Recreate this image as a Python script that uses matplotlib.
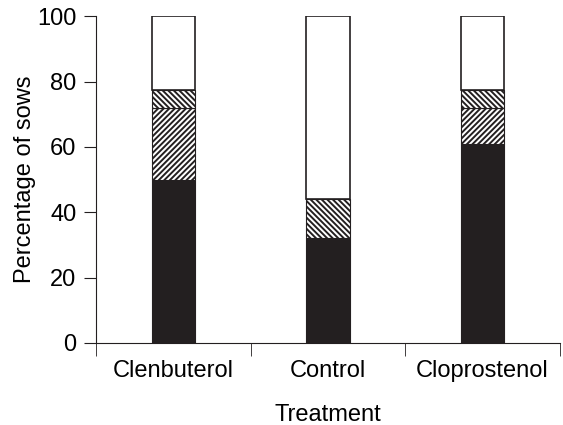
import matplotlib.pyplot as plt
import numpy as np

plt.rcParams['font.family'] = ['Liberation Sans', 'DejaVu Sans']
plt.rcParams['hatch.linewidth'] = 1.4

treatments = ['Clenbuterol', 'Control', 'Cloprostenol']
# stacked segments, bottom to top (percent)
solid = [50, 32, 61]
fwd_hatch = [22, 0, 11]
back_hatch = [5.5, 12, 5.5]
open_part = [22.5, 56, 22.5]

x = np.arange(len(treatments))
w = 0.28
ink = '#231f20'

fig = plt.figure(figsize=(5.63, 4.25), dpi=100)
ax = fig.add_axes([0.1705, 0.193, 0.824, 0.769])

b = np.zeros(3)
ax.bar(x, solid, w, bottom=b, color=ink, edgecolor=ink, linewidth=0.8)
b += solid
ax.bar(x, fwd_hatch, w, bottom=b, color='white', edgecolor=ink, hatch='//////', linewidth=0.8)
b += fwd_hatch
ax.bar(x, back_hatch, w, bottom=b, color='white', edgecolor=ink, hatch='\\\\\\\\\\\\', linewidth=0.8)
b += back_hatch
ax.bar(x, open_part, w, bottom=b, color='white', edgecolor=ink, linewidth=1.2)

ax.set_xlim(-0.5, 2.5)
ax.set_ylim(0, 100)
ax.spines['top'].set_visible(False)
ax.spines['right'].set_visible(False)
ax.spines['left'].set_color(ink)
ax.spines['bottom'].set_color(ink)

ax.set_xticks(x)
ax.set_xticklabels(treatments, fontsize=17)
ax.tick_params(axis='x', which='major', length=0, pad=12)
ax.set_xticks([-0.5, 0.5, 1.5, 2.5], minor=True)
ax.tick_params(axis='x', which='minor', length=9, direction='out', color=ink)
ax.set_yticks([0, 20, 40, 60, 80, 100])
ax.tick_params(axis='y', length=9, labelsize=17, pad=5, color=ink)

ax.set_xlabel('Treatment', fontsize=17, labelpad=16)
ax.set_ylabel('Percentage of sows', fontsize=17, labelpad=1)

plt.savefig('out.png', dpi=100)
